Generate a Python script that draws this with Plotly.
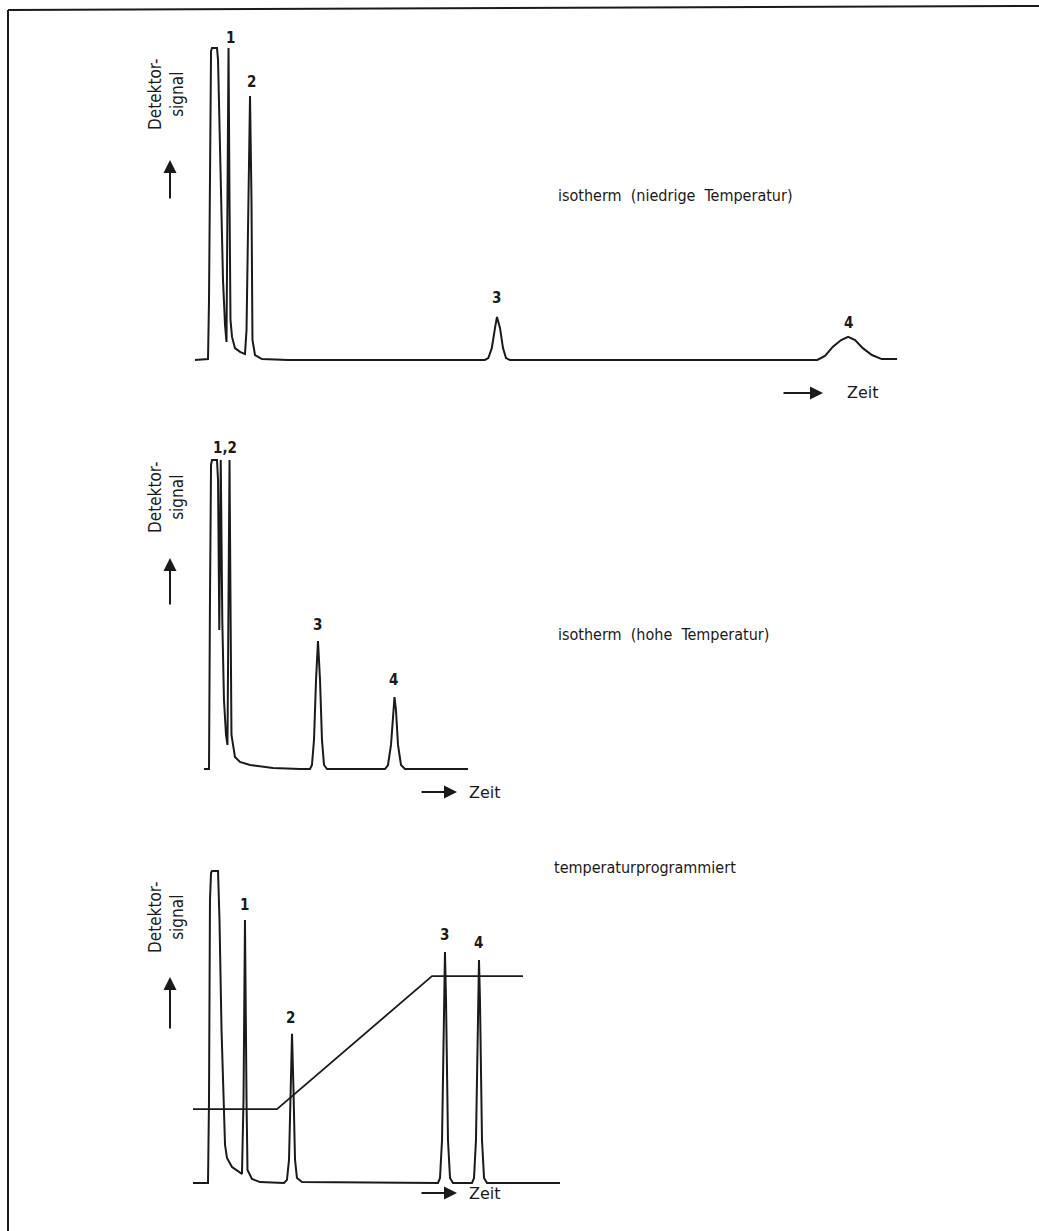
import plotly.graph_objects as go

W, H = 1039, 1231

# ---------------- data (time in arbitrary units, signal normalised per panel, 100 = clipped top) -------------
p1_time = [0, 1.86, 2.0, 2.14, 2.29, 2.43, 3.14, 3.29, 3.64, 4.0, 4.29, 4.5, 4.64, 4.79, 4.93, 5.07, 5.29, 5.71,
           6.43, 7.14, 7.36, 7.64, 7.86, 8.07, 8.21, 8.57, 9.57, 13.29,
           41.4, 41.9, 42.4, 42.86, 43.14, 43.57, 44.0, 44.43, 45.0,
           88.9, 90.0, 91.1, 92.3, 93.3, 94.3, 95.4, 96.7, 98.1, 100.3]
p1_signal = [0, 0.3, 19, 67, 99, 100, 100, 96.2, 57.7, 25.6, 11.2, 5.8, 51.3, 100, 51.3, 12.8, 7.4, 3.8,
             2.6, 1.9, 9.6, 51.3, 84.6, 51.3, 6.4, 1.6, 0.3, 0,
             0, 0.6, 3.8, 10.3, 13.8, 10.3, 3.8, 0.6, 0,
             0, 1.3, 4.2, 6.4, 7.4, 6.4, 3.8, 1.6, 0.3, 0.3]

p2_time = [1.29, 2.0, 2.14, 2.29, 2.43, 3.14, 3.29, 3.47, 3.68, 3.9, 4.14, 4.43, 4.64, 4.79, 4.93, 5.07, 5.21,
           5.71, 6.43, 7.86, 11.14, 15.0,
           16.43, 16.71, 17.0, 17.29, 17.57, 17.86, 18.14, 18.43, 18.86,
           27.14, 27.57, 28.0, 28.29, 28.5, 28.71, 29.0, 29.43, 30.0, 39.0]
p2_signal = [0, 0, 54.7, 98.4, 100, 100, 93.5, 45, 100, 48, 22.3, 11.0, 7.8, 54.7, 100, 54.7, 11.0,
             3.9, 2.3, 1.3, 0.3, 0,
             0, 1.3, 9.4, 28.8, 41.4, 28.8, 9.4, 1.3, 0,
             0, 1.3, 7.8, 19.1, 23.3, 19.1, 7.8, 1.3, 0, 0]

p3_time = [-0.29, 1.86, 2.0, 2.14, 2.29, 2.43, 3.29, 3.5, 3.79, 4.07, 4.29, 4.57, 5.29, 6.14, 6.71,
           6.93, 7.14, 7.36, 7.5, 8.14, 9.29, 12.71,
           13.14, 13.43, 13.64, 13.86, 14.07, 14.29, 14.57, 15.29,
           34.71, 35.0, 35.29, 35.57, 35.71, 35.86, 36.14, 36.43, 36.86,
           39.57, 39.86, 40.14, 40.43, 40.57, 40.71, 41.0, 41.29, 41.71, 52.14]
p3_signal = [0, 0, 26.6, 90.7, 99.4, 100, 100, 84.3, 49.0, 23.4, 12.2, 8.0, 5.1, 3.8, 2.9,
             26.6, 84.3, 26.6, 4.2, 1.3, 0.3, 0,
             1.0, 7.4, 29.8, 47.8, 29.8, 7.4, 1.6, 0.3,
             0, 1.6, 13.8, 58.7, 74.0, 58.7, 13.8, 1.6, 0,
             0, 1.6, 13.8, 58.7, 71.5, 58.7, 13.8, 1.6, 0, 0]

# temperature programme (drawn in panel-3 signal units)
temp_time = [-0.29, 11.71, 33.86, 46.86]
temp_level = [23.7, 23.7, 66.3, 66.3]

# peak labels (text, time, signal)
p1_labels = ["1", "2", "3", "4"]
p1_label_t = [5.0, 8.14, 43.14, 93.3]
p1_label_s = [103.2, 89.1, 19.9, 11.9]
p2_labels = ["1,2", "3", "4"]
p2_label_t = [4.29, 17.57, 28.29]
p2_label_s = [103.9, 46.6, 28.8]
p3_labels = ["1", "2", "3", "4"]
p3_label_t = [7.0, 13.71, 35.71, 40.43]
p3_label_s = [89.1, 52.9, 79.5, 76.9]

titles = ["isotherm\u00a0\u00a0(niedrige\u00a0\u00a0Temperatur)",
          "isotherm\u00a0\u00a0(hohe\u00a0\u00a0Temperatur)",
          "temperaturprogrammiert"]
y_label = "Detektor-<br>signal"
x_label = "Zeit"

# ---------------- layout helpers (pixel -> paper) ----------------
def xp(px):
    return px / W

def yp(py):
    return 1 - py / H

INK = "#1a1a1a"
FONT = "DejaVu Sans Condensed"

# panel geometry: baseline pixel, top pixel
panels = [(360, 48), (769, 460), (1183, 871)]
YR = [-8, 108]
XR = [-10, 110]
x_dom = [xp(125), xp(965)]

fig = go.Figure()
series = [(p1_time, p1_signal), (p2_time, p2_signal), (p3_time, p3_signal)]
for i, (t, s) in enumerate(series):
    ax = "" if i == 0 else str(i + 1)
    fig.add_trace(go.Scatter(x=t, y=s, mode="lines", xaxis="x" + ax, yaxis="y" + ax,
                             line=dict(color=INK, width=2), hoverinfo="skip", showlegend=False))
fig.add_trace(go.Scatter(x=temp_time, y=temp_level, mode="lines", xaxis="x3", yaxis="y3",
                         line=dict(color=INK, width=1.8), hoverinfo="skip", showlegend=False))

layout = dict(width=W, height=H, margin=dict(l=0, r=0, t=0, b=0),
              paper_bgcolor="white", plot_bgcolor="rgba(0,0,0,0)", showlegend=False)
for i, (B, T) in enumerate(panels):
    p = (B - T) / 100.0
    bot = B - YR[0] * p
    top = T - (YR[1] - 100) * p
    sfx = "" if i == 0 else str(i + 1)
    layout["xaxis" + sfx] = dict(domain=x_dom, range=XR, visible=False, fixedrange=True,
                                 anchor="y" + sfx)
    layout["yaxis" + sfx] = dict(domain=[yp(bot), yp(top)], range=YR, visible=False, fixedrange=True,
                                 anchor="x" + sfx)
fig.update_layout(**layout)

ann = []
# peak labels
for i, (labs, lt, ls) in enumerate([(p1_labels, p1_label_t, p1_label_s),
                                     (p2_labels, p2_label_t, p2_label_s),
                                     (p3_labels, p3_label_t, p3_label_s)]):
    sfx = "" if i == 0 else str(i + 1)
    for lab, t, s in zip(labs, lt, ls):
        ann.append(dict(x=t, y=s, xref="x" + sfx, yref="y" + sfx, text=lab, showarrow=False,
                        xanchor="center", yanchor="middle",
                        font=dict(family=FONT, size=15, color=INK, weight="bold")))

# y-axis labels and arrows, time arrows, panel descriptions
ylab_pos = [(166, 94), (166, 497), (166, 917)]
yarrow = [(170, 160, 200), (170, 558, 606), (170, 977, 1030)]
zeit_arrow = [(782, 823, 393, 845), (420, 457, 792, 467), (420, 457, 1193, 467)]
desc_pos = [(556, 195), (556, 634), (552, 867)]
for i in range(3):
    x0, y0 = ylab_pos[i]
    ann.append(dict(x=xp(x0), y=yp(y0), xref="paper", yref="paper", text=y_label, textangle=-90,
                    showarrow=False, align="center", xanchor="center", yanchor="middle",
                    font=dict(family=FONT, size=17, color=INK)))
    ax_, yh, yt = yarrow[i]
    ann.append(dict(x=xp(ax_), y=yp(yh), xref="paper", yref="paper", text="", showarrow=True,
                    ax=0, ay=yt - yh, arrowhead=2, arrowsize=1.3, arrowwidth=2, arrowcolor=INK))
    xt, xh, yz, xtext = zeit_arrow[i]
    ann.append(dict(x=xp(xh), y=yp(yz), xref="paper", yref="paper", text="", showarrow=True,
                    ax=xt - xh, ay=0, arrowhead=2, arrowsize=1.3, arrowwidth=2, arrowcolor=INK))
    ann.append(dict(x=xp(xtext), y=yp(yz), xref="paper", yref="paper", text=x_label,
                    showarrow=False, xanchor="left", yanchor="middle",
                    font=dict(family="DejaVu Sans", size=16, color=INK)))
    dx, dy = desc_pos[i]
    ann.append(dict(x=xp(dx), y=yp(dy), xref="paper", yref="paper", text=titles[i],
                    showarrow=False, xanchor="left", yanchor="middle",
                    font=dict(family=FONT, size=16, color=INK)))

fig.update_layout(annotations=ann)

# page frame (top and left edges of the scanned sheet)
fig.update_layout(shapes=[
    dict(type="line", xref="paper", yref="paper", x0=xp(8), y0=yp(10), x1=xp(1039), y1=yp(6),
         line=dict(color=INK, width=2)),
    dict(type="line", xref="paper", yref="paper", x0=xp(8), y0=yp(10), x1=xp(8), y1=yp(1231),
         line=dict(color=INK, width=2)),
])

fig.write_html("out.html", config=dict(displayModeBar=False))
